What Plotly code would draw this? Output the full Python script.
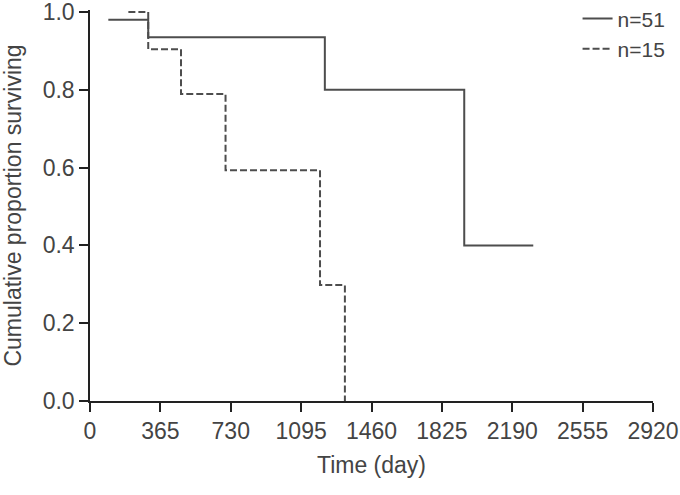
import plotly.graph_objects as go

# Kaplan-Meier step data
days_n51 = [95, 302, 1218, 1941, 2299]
surv_n51 = [0.98, 0.935, 0.80, 0.40, 0.40]

days_n15 = [199, 302, 472, 703, 1193, 1322]
surv_n15 = [1.0, 0.904, 0.789, 0.593, 0.298, 0.0]

x_ticks = [0, 365, 730, 1095, 1460, 1825, 2190, 2555, 2920]
y_ticks = [0.0, 0.2, 0.4, 0.6, 0.8, 1.0]
y_tick_labels = ["0.0", "0.2", "0.4", "0.6", "0.8", "1.0"]

FONT = "Liberation Sans, Arial, sans-serif"
LINE_COLOR = "#4d4d4d"
AXIS_COLOR = "#222222"
TEXT_COLOR = "#444444"

fig = go.Figure()
fig.add_trace(go.Scatter(
    x=days_n51, y=surv_n51, mode="lines", line_shape="hv",
    name="n=51", line=dict(color=LINE_COLOR, width=2),
))
fig.add_trace(go.Scatter(
    x=days_n15, y=surv_n15, mode="lines", line_shape="hv",
    name="n=15", line=dict(color=LINE_COLOR, width=2, dash="7px,3px"),
))

fig.update_layout(
    width=680, height=495,
    margin=dict(l=90, r=27, t=10, b=94, autoexpand=False),
    paper_bgcolor="white", plot_bgcolor="white",
    font=dict(family=FONT, size=23, color=TEXT_COLOR),
    showlegend=True,
    legend=dict(
        x=0.866, y=1.03, xanchor="left", yanchor="top",
        bgcolor="rgba(0,0,0,0)", font=dict(size=21, color=TEXT_COLOR),
        tracegroupgap=0, itemwidth=30,
    ),
    xaxis=dict(
        range=[0, 2920], tickvals=x_ticks, ticktext=[str(v) for v in x_ticks],
        showgrid=False, zeroline=False, showline=True, linecolor=AXIS_COLOR,
        linewidth=1.5, ticks="outside", ticklen=9, tickwidth=1.5, tickcolor=AXIS_COLOR,
        tickfont=dict(size=23, color=TEXT_COLOR), automargin=False,
        ticklabeloverflow="allow",
        title=dict(text="Time (day)", font=dict(size=23, color=TEXT_COLOR), standoff=14),
    ),
    yaxis=dict(
        range=[0, 1.005], tickvals=y_ticks, ticktext=y_tick_labels,
        showgrid=False, zeroline=False, showline=True, linecolor=AXIS_COLOR,
        linewidth=1.5, ticks="outside", ticklen=9, tickwidth=1.5, tickcolor=AXIS_COLOR,
        tickfont=dict(size=23, color=TEXT_COLOR), automargin=False,
        ticklabeloverflow="allow",
        title=dict(text="Cumulative proportion surviving",
                   font=dict(size=23, color=TEXT_COLOR), standoff=16),
    ),
)

fig.write_html("out.html")
